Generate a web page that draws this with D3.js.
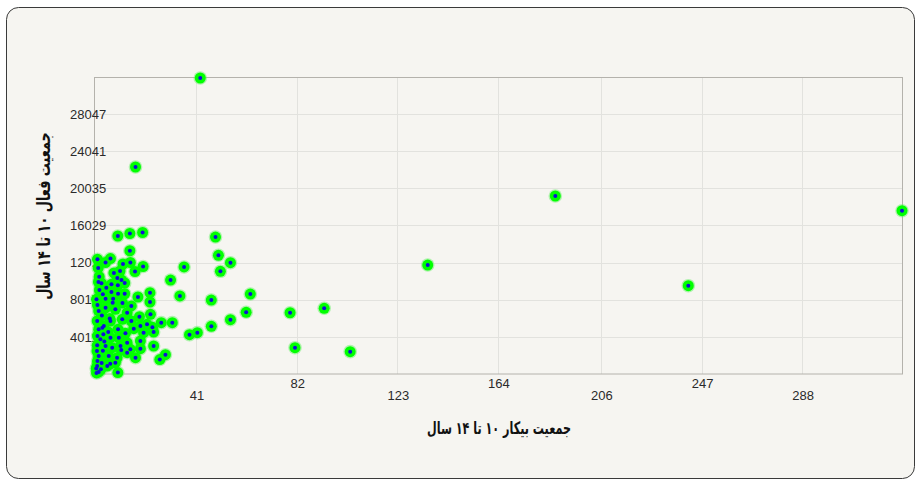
<!DOCTYPE html>
<html>
<head>
<meta charset="utf-8">
<script src="https://cdn.jsdelivr.net/npm/d3@7/dist/d3.min.js"></script>
<style>
html,body{margin:0;padding:0;background:#ffffff;}
svg{display:block;}
</style>
</head>
<body>
<script>
// ---- data ----
const xValues = [42.7,16.3,187.4,328.7,241.6,135.4,103.8,93.2,79.3,81.3,
  48.9,50.1,55.0,50.9,36.1,30.6,34.4,47.2,63.1,61.4,55.0,47.2,38.3,41.5,31.3,26.8,28.5,26.2,23.2,
  9.1,14.0,19.2,14.0,0.8,1.1,4.1,6.1,11.2,14.2,19.4,10.0,16.1,8.9,11.9,9.1,6.5,4.4,9.2,11.9,4.1,17.3,22.2,22.2,1.6,1.2,6.5,10.6,
  0.4,7.2,1.3,4.1,8.1,12.9,17.9,22.4,0.7,3.4,6.1,10.9,14.6,18.3,21.0,1.3,5.2,9.2,12.2,15.6,19.6,23.7,
  2.0,6.1,9.5,12.9,18.3,0.7,4.1,6.8,10.2,14.2,18.3,23.7,1.3,5.4,8.8,12.9,16.3,0.7,4.8,8.1,1.3,9.1,0.4,0.6,0.8,0.8,0.8,11.0,14.6,
  0.3,2.5,3.0,2.8,2.6,3.0,1.5,7.5,2.2,3.6,5.8,2.4,7.0,3.2,10.5,6.0];
const yValues = [31940,22335,19206,17620,9530,11760,2410,7090,6610,2840,
  14780,12810,12010,11080,11550,10140,8420,7980,8630,6660,5860,5150,4240,4460,5540,5540,2080,1560,5040,
  14890,15160,15270,13300,12380,11440,12030,12460,11870,12030,11600,11110,11060,10360,9820,9570,9680,9310,8660,8660,8120,8310,8770,7770,9060,9930,8850,10140,
  8060,8125,6800,7150,6980,6610,6180,6440,5720,5180,5720,5900,5720,5180,5360,4820,4530,4820,4390,4890,4460,4530,
  3740,3920,3920,3380,3560,3100,3020,2840,3020,2660,2730,3020,1940,1940,1760,2300,1760,860,860,1220,220,160,110,2480,1400,4100,7450,7660,7340,
  600,1200,2500,5000,6300,8600,10500,10900,500,3500,6000,9800,7700,4300,2600,1100];
const xTicks = [41, 82, 123, 164, 206, 247, 288];
const yTicks = [4011, 8017, 12023, 16029, 20035, 24041, 28047];
const xTitle = "جمعیت بیکار ۱۰ تا ۱۴ سال";
const yTitle = "جمعیت فعال ۱۰ تا ۱۴ سال";

const W = 917, H = 485;
const svg = d3.select("body").append("svg").attr("width", W).attr("height", H);

// card
svg.append("rect").attr("x", 6.5).attr("y", 7.5).attr("width", 908).attr("height", 471)
  .attr("rx", 12).attr("ry", 12).attr("fill", "#f6f5f1").attr("stroke", "#3a3a3a").attr("stroke-width", 1);

const x = d3.scaleLinear().domain([0, 328.9]).range([95.5, 902.5]);
const y = d3.scaleLinear().domain([0, 32048]).range([374, 77]);

const g = svg.append("g");
// grid
g.selectAll("line.vg").data(xTicks).join("line").attr("class","vg")
  .attr("x1", d => Math.round(x(d)) + 0.5).attr("x2", d => Math.round(x(d)) + 0.5)
  .attr("y1", y.range()[1]).attr("y2", y.range()[0]).attr("stroke", "#e2e2de").attr("stroke-width", 1);
g.selectAll("line.hg").data(yTicks).join("line").attr("class","hg")
  .attr("y1", d => Math.round(y(d)) + 0.5).attr("y2", d => Math.round(y(d)) + 0.5)
  .attr("x1", 94).attr("x2", x.range()[1]).attr("stroke", "#e2e2de").attr("stroke-width", 1);

// frame
g.append("rect").attr("x", 94.5).attr("y", 77.5).attr("width", x.range()[1] - 94.5).attr("height", 374 - 77.5)
  .attr("fill", "none").attr("stroke", "#b4b2ac").attr("stroke-width", 1);

// y tick labels (left aligned, overlapping the frame)
g.selectAll("text.yt").data(yTicks).join("text").attr("class","yt")
  .attr("x", 70).attr("y", d => y(d)).attr("dy", "0.36em")
  .attr("font-family", "Liberation Sans, Arial, sans-serif").attr("font-size", 13).attr("fill", "#2a2a2a")
  .text(d => d);

// x tick labels (staggered)
g.selectAll("text.xt").data(xTicks).join("text").attr("class","xt")
  .attr("x", d => x(d) + 1).attr("y", (d, i) => i % 2 === 0 ? 400 : 388)
  .attr("text-anchor", "middle")
  .attr("font-family", "Liberation Sans, Arial, sans-serif").attr("font-size", 13).attr("fill", "#2a2a2a")
  .text(d => d);

// points
const pts = xValues.map((v, i) => ({x: v, y: yValues[i]}));
const pg = svg.append("g");
pg.selectAll("circle.o").data(pts).join("circle").attr("class","o")
  .attr("cx", d => x(d.x)).attr("cy", d => y(d.y)).attr("r", 6.8).attr("fill", "#5cf05c").attr("opacity", 0.45);
pg.selectAll("circle.g").data(pts).join("circle").attr("class","g")
  .attr("cx", d => x(d.x)).attr("cy", d => y(d.y)).attr("r", 5.5).attr("fill", "#00ff00");
pg.selectAll("circle.b").data(pts).join("circle").attr("class","b")
  .attr("cx", d => x(d.x)).attr("cy", d => y(d.y)).attr("r", 2).attr("fill", "#1010d8");

// titles: tall bold text, squeezed horizontally to the reference width
function fitText(sel, target, cx, cy, rot) {
  const len = sel.node().getComputedTextLength();
  const sx = target / len;
  sel.attr("transform", `translate(${cx},${cy}) rotate(${rot}) scale(${sx},1)`);
}
const xt = svg.append("text").attr("x", 0).attr("y", 0).attr("text-anchor", "middle")
  .attr("direction", "rtl")
  .attr("font-family", "DejaVu Sans, sans-serif").attr("font-weight", "bold").attr("font-size", 17)
  .attr("fill", "#111").text(xTitle);
fitText(xt, 144, 499, 434, 0);
const yt = svg.append("text").attr("x", 0).attr("y", 0).attr("text-anchor", "middle")
  .attr("direction", "rtl")
  .attr("font-family", "DejaVu Sans, sans-serif").attr("font-weight", "bold").attr("font-size", 18)
  .attr("fill", "#111").text(yTitle);
fitText(yt, 168, 50, 216, -90);
</script>
</body>
</html>
